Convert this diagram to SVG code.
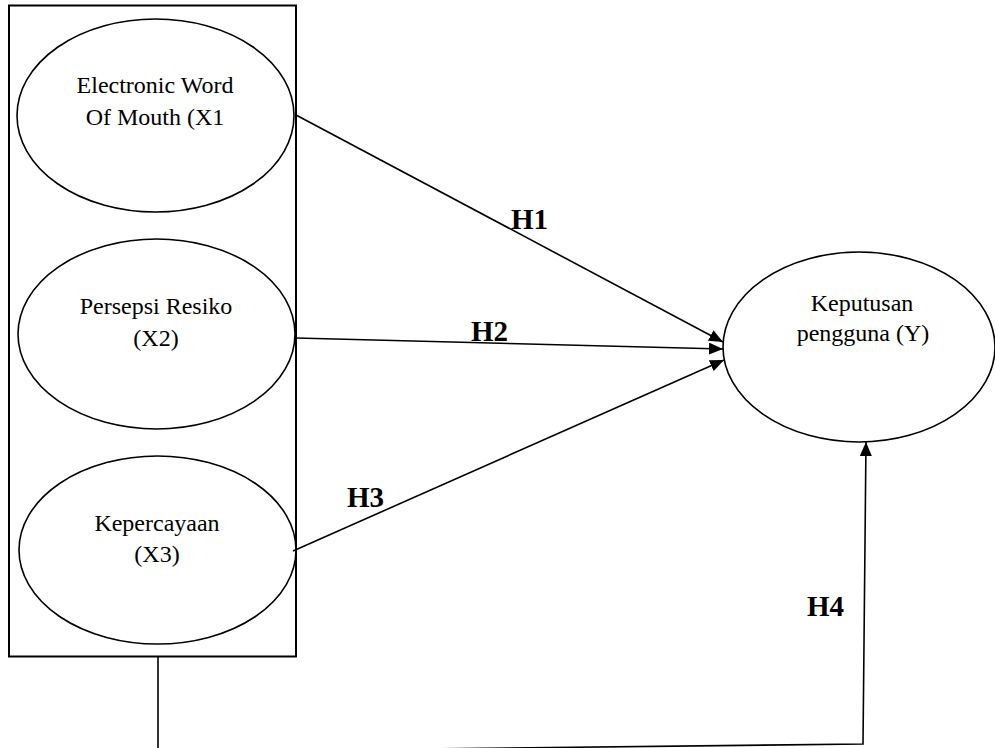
<svg xmlns="http://www.w3.org/2000/svg" width="995" height="748" viewBox="0 0 995 748">
<style>
.sh{fill:#fff;stroke:#000;stroke-width:1.6}
.t{font-family:"Liberation Serif","Times New Roman",serif;font-size:24px;fill:#000;text-anchor:middle}
.h{font-family:"Liberation Serif","Times New Roman",serif;font-size:29px;font-weight:bold;fill:#000}
.c{fill:none;stroke:#000;stroke-width:1.6}
</style>
<defs>
<marker id="arr" markerUnits="userSpaceOnUse" viewBox="0 0 14 12" refX="14" refY="6" markerWidth="14" markerHeight="12" orient="auto">
<path d="M0,0 L14,6 L0,12 z" fill="#000"/>
</marker>
</defs>
<rect id="group-box" x="9" y="5.5" width="287" height="651" fill="#fff" stroke="#000" stroke-width="2"/>
<g id="x1">
<ellipse class="sh" cx="155.5" cy="115.5" rx="138.5" ry="96.5"/>
<text class="t" x="155" y="93">Electronic Word</text>
<text class="t" x="155" y="125">Of Mouth (X1</text>
</g>
<g id="x2">
<ellipse class="sh" cx="156.5" cy="334" rx="138.5" ry="95"/>
<text class="t" x="156" y="314">Persepsi Resiko</text>
<text class="t" x="156" y="346">(X2)</text>
</g>
<g id="x3">
<ellipse class="sh" cx="157.5" cy="550" rx="138.5" ry="94"/>
<text class="t" x="157" y="531">Kepercayaan</text>
<text class="t" x="157" y="562">(X3)</text>
</g>
<g id="y">
<ellipse class="sh" cx="859" cy="347" rx="136" ry="95"/>
<text class="t" x="862" y="311">Keputusan</text>
<text class="t" x="863" y="341">pengguna (Y)</text>
</g>
<g id="connectors">
<line class="c" x1="296" y1="115" x2="723" y2="342" marker-end="url(#arr)"/>
<line class="c" x1="296" y1="338" x2="723" y2="349" marker-end="url(#arr)"/>
<line class="c" x1="293" y1="551" x2="724" y2="360" marker-end="url(#arr)"/>
<path class="c" d="M158,656.5 V752 L863,744 L866,442" marker-end="url(#arr)"/>
</g>
<g id="labels">
<text class="h" x="511" y="229">H1</text>
<text class="h" x="471" y="341">H2</text>
<text class="h" x="347" y="507">H3</text>
<text class="h" x="807" y="616">H4</text>
</g>
</svg>
